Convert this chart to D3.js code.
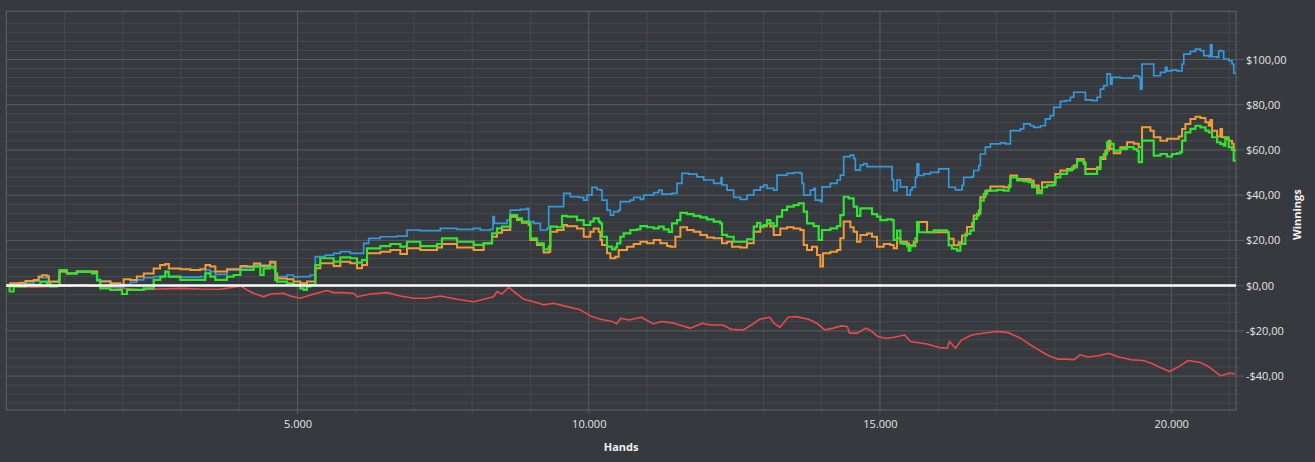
<!DOCTYPE html>
<html>
<head>
<meta charset="utf-8">
<script src="https://cdn.jsdelivr.net/npm/d3@7"></script>
<style>
  html, body { margin: 0; padding: 0; background: #36393d; }
  svg { display: block; }
</style>
</head>
<body>
<div id="chart"></div>
<script>
// [hands, winnings $]
const blueSeries = [[0,0],[240,1.0],[470,2.0],[555,3.5],[730,1.5],[900,2.0],[916,6.2],[1040,5.4],[1210,6.2],[1390,6.0],[1560,2.0],[1790,-0.5],[1960,-0.8],[2015,0.5],[2130,1.5],[2240,2.5],[2360,3.5],[2530,4.0],[2730,6.2],[2790,4.0],[3000,3.8],[3330,4.0],[3420,6.9],[3500,6.2],[3590,5.0],[3790,6.9],[4020,8.0],[4250,9.1],[4530,9.8],[4600,9.8],[4620,4.0],[4820,4.7],[4930,3.9],[5050,4.0],[5220,4.7],[5306,12.8],[5391,12.8],[5477,13.5],[5620,14.3],[5735,15.0],[5906,14.3],[6078,14.3],[6135,18.7],[6221,20.9],[6422,21.6],[6708,21.9],[6879,24.6],[7108,24.3],[7451,25.3],[7738,24.9],[8024,25.3],[8138,24.6],[8310,24.9],[8356,30.5],[8379,27.5],[8596,29.0],[8653,33.4],[8825,33.7],[8940,34.2],[8968,28.3],[9054,27.5],[9169,24.6],[9283,25.3],[9312,34.9],[9455,34.9],[9569,40.8],[9684,39.3],[9827,39.0],[9913,37.8],[9970,40.0],[10056,43.4],[10141,42.5],[10199,42.2],[10228,37.8],[10313,33.4],[10371,31.2],[10428,32.7],[10514,33.4],[10542,37.1],[10714,37.8],[10771,39.0],[10886,38.1],[10943,40.0],[11115,41.1],[11201,42.2],[11258,40.5],[11429,40.8],[11515,45.2],[11601,49.6],[11715,49.3],[11858,48.1],[11973,46.7],[12145,45.2],[12259,45.2],[12271,47.8],[12288,44.5],[12374,42.2],[12488,39.0],[12603,38.1],[12717,40.0],[12832,42.2],[12946,43.7],[13003,44.5],[13060,43.0],[13175,42.2],[13232,48.9],[13404,49.6],[13518,50.0],[13633,49.6],[13661,45.2],[13690,40.0],[13804,42.2],[13862,43.0],[13890,37.8],[13976,37.1],[14005,43.7],[14148,45.2],[14262,46.7],[14319,48.9],[14377,57.0],[14491,57.7],[14548,56.2],[14577,51.1],[14663,53.3],[14720,54.0],[14777,52.6],[15178,52.6],[15207,46.7],[15235,42.0],[15292,46.7],[15350,43.7],[15464,40.0],[15521,42.2],[15550,43.5],[15608,47.9],[15636,53.8],[15665,48.7],[15751,49.4],[15865,50.1],[16008,51.6],[16151,51.6],[16180,43.5],[16294,42.3],[16409,44.3],[16437,47.9],[16580,48.2],[16609,50.9],[16695,53.1],[16723,58.2],[16809,61.2],[16895,62.7],[17067,63.1],[17153,62.7],[17239,68.5],[17410,69.3],[17468,71.5],[17582,70.7],[17639,70.0],[17754,70.7],[17840,73.7],[17925,75.2],[17983,78.8],[18097,81.5],[18183,81.8],[18269,83.3],[18326,85.5],[18498,85.5],[18526,82.1],[18641,81.8],[18727,83.3],[18784,86.9],[18841,88.4],[18898,93.6],[18955,89.1],[18984,92.1],[19127,91.8],[19356,92.8],[19442,92.1],[19471,86.9],[19499,98.0],[19642,98.0],[19700,92.8],[19814,94.3],[19900,96.5],[19928,95.0],[20014,95.3],[20100,95.0],[20186,98.0],[20215,102.4],[20329,103.6],[20415,104.6],[20501,103.9],[20558,101.7],[20644,101.2],[20672,106.5],[20701,101.2],[20787,100.9],[20815,103.9],[20873,103.6],[20901,100.2],[20987,99.5],[21044,98.0],[21073,93.9],[21102,93.6]];

const orangeSeries = [[0,0],[70,1.0],[240,1.3],[330,2.0],[470,2.5],[555,4.0],[615,4.6],[700,4.3],[730,1.8],[900,2.5],[910,6.2],[1040,5.4],[1210,6.2],[1390,6.2],[1560,2.5],[1610,1.8],[1790,1.0],[1960,0.3],[2015,2.8],[2130,2.5],[2240,4.0],[2360,5.4],[2530,7.6],[2640,9.1],[2730,9.6],[2790,7.6],[2990,7.2],[3160,6.9],[3330,7.2],[3420,9.1],[3500,8.4],[3590,6.2],[3790,7.2],[3900,7.2],[4020,8.7],[4130,8.4],[4250,9.8],[4360,8.7],[4530,10.6],[4600,10.6],[4620,5.4],[4650,3.2],[4820,2.8],[4930,1.8],[5048,1.0],[5162,1.8],[5306,7.7],[5391,9.9],[5620,8.7],[5735,10.6],[5906,9.9],[6021,7.7],[6107,9.1],[6193,14.3],[6422,15.0],[6593,15.7],[6765,14.0],[6879,16.5],[7108,15.7],[7394,16.9],[7480,18.4],[7738,16.9],[8024,15.7],[8196,18.7],[8310,19.0],[8339,21.6],[8425,23.4],[8510,24.6],[8653,30.5],[8768,29.0],[8854,27.8],[8968,26.8],[8997,20.2],[9111,18.0],[9226,14.6],[9312,15.0],[9340,23.8],[9455,24.6],[9569,26.8],[9627,26.3],[9798,25.3],[9913,21.6],[10027,23.8],[10084,25.3],[10170,23.8],[10199,20.2],[10228,18.0],[10313,14.3],[10371,12.1],[10457,12.8],[10514,15.7],[10657,17.2],[10771,18.4],[10886,19.4],[11000,18.7],[11115,20.2],[11229,18.7],[11344,17.5],[11401,17.2],[11487,21.6],[11573,25.8],[11687,24.6],[11801,23.8],[11916,22.4],[12030,21.3],[12145,20.9],[12259,20.9],[12288,18.7],[12374,19.4],[12460,17.2],[12603,16.9],[12717,18.7],[12832,23.8],[12946,26.3],[13060,27.5],[13118,26.1],[13175,22.4],[13289,25.3],[13404,25.8],[13518,25.3],[13633,24.6],[13690,18.0],[13747,15.7],[13833,17.2],[13919,13.5],[13976,8.4],[14022,14.3],[14148,15.0],[14262,15.7],[14319,20.9],[14377,28.3],[14434,28.3],[14491,25.8],[14548,23.8],[14606,19.4],[14663,22.4],[14777,23.1],[14863,21.6],[14949,17.2],[15064,18.4],[15178,18.0],[15235,16.5],[15292,20.9],[15350,19.4],[15464,18.7],[15493,17.8],[15579,19.4],[15636,28.1],[15808,23.6],[16151,23.6],[16180,20.7],[16266,17.8],[16352,19.2],[16409,22.2],[16495,25.9],[16580,27.6],[16609,31.0],[16695,33.2],[16723,39.1],[16809,42.0],[16895,43.8],[17124,43.5],[17210,44.3],[17239,48.7],[17353,47.2],[17468,47.2],[17582,46.5],[17639,44.3],[17725,42.0],[17782,45.7],[17983,45.7],[18011,49.4],[18097,50.9],[18212,51.6],[18326,53.1],[18383,56.0],[18498,54.6],[18526,51.6],[18727,52.3],[18784,56.0],[18870,59.7],[18927,64.1],[18955,60.4],[19013,58.5],[19127,61.2],[19242,63.4],[19356,62.7],[19442,61.2],[19499,70.0],[19614,70.0],[19642,68.5],[19700,65.6],[19814,64.1],[19928,64.9],[20129,65.9],[20186,69.3],[20243,71.5],[20329,73.7],[20415,74.7],[20501,74.1],[20587,72.2],[20644,70.7],[20672,73.2],[20701,68.5],[20787,65.9],[20844,69.3],[20873,65.6],[20930,64.9],[20987,64.1],[21044,62.7],[21073,59.7],[21102,59.5]];

const greenSeries = [[0,0],[40,0.3],[57,-2.6],[126,-0.4],[326,0.3],[469,0.3],[584,1.8],[698,1.0],[755,-0.4],[870,-0.1],[916,6.9],[1042,5.4],[1213,6.2],[1385,6.2],[1471,5.4],[1557,2.5],[1614,-1.2],[1786,-1.9],[1900,-1.9],[1986,-3.7],[2072,-1.9],[2243,-1.9],[2358,-1.2],[2530,2.5],[2644,4.0],[2730,6.2],[2787,4.0],[2988,2.5],[3331,2.5],[3417,5.4],[3503,4.0],[3588,2.5],[3789,4.0],[3903,4.7],[4018,6.9],[4132,6.9],[4246,8.4],[4361,4.7],[4418,7.6],[4533,8.4],[4590,7.6],[4618,2.5],[4647,1.8],[4819,1.0],[4933,0.3],[5048,-1.2],[5105,-1.9],[5162,-0.4],[5220,0.3],[5306,9.1],[5391,12.1],[5563,12.1],[5620,10.6],[5735,12.5],[5906,12.1],[6021,10.2],[6107,11.3],[6193,16.5],[6422,17.5],[6593,18.4],[6765,17.2],[6879,19.4],[7108,17.5],[7394,18.4],[7480,20.9],[7738,19.4],[8024,18.0],[8196,18.7],[8281,18.7],[8339,23.1],[8425,25.3],[8510,26.1],[8653,31.2],[8768,29.7],[8854,28.3],[8968,27.5],[8997,20.9],[9111,18.7],[9226,16.0],[9312,17.2],[9340,26.1],[9455,25.8],[9541,30.8],[9627,30.5],[9798,29.0],[9913,26.8],[10027,28.3],[10084,29.7],[10170,28.3],[10199,27.5],[10228,21.6],[10313,17.2],[10399,16.0],[10457,16.9],[10485,18.7],[10542,21.6],[10600,23.1],[10714,24.6],[10829,24.9],[10886,26.3],[11000,25.8],[11115,25.3],[11201,26.1],[11286,24.9],[11372,23.8],[11429,27.5],[11515,29.0],[11573,32.2],[11687,31.6],[11801,30.8],[11916,30.2],[12030,29.3],[12145,28.3],[12259,27.5],[12288,22.4],[12374,21.6],[12488,19.4],[12603,19.4],[12717,20.5],[12832,26.1],[12889,27.8],[12946,25.8],[13003,26.8],[13060,29.0],[13118,27.5],[13175,26.3],[13232,30.5],[13318,33.4],[13404,34.9],[13518,35.6],[13604,36.4],[13690,32.7],[13747,27.5],[13862,26.3],[13947,20.2],[14005,24.6],[14148,25.3],[14262,26.3],[14319,31.2],[14377,39.3],[14462,38.6],[14548,34.9],[14606,30.8],[14663,34.2],[14777,34.2],[14863,31.6],[14949,30.5],[15006,29.0],[15121,29.3],[15207,29.0],[15235,20.2],[15292,24.3],[15350,18.7],[15407,18.5],[15464,17.5],[15493,15.5],[15521,17.5],[15607,20.9],[15636,28.1],[15665,23.6],[15922,24.4],[16151,23.6],[16180,17.8],[16237,16.3],[16323,15.5],[16380,18.5],[16466,22.9],[16552,24.4],[16609,29.5],[16666,31.7],[16723,37.6],[16781,40.6],[16838,42.0],[17010,42.3],[17124,42.0],[17210,43.5],[17239,47.9],[17353,46.5],[17468,46.2],[17553,45.7],[17611,43.5],[17697,40.9],[17782,43.5],[17868,44.3],[17983,44.7],[18011,47.9],[18097,49.4],[18212,50.9],[18297,52.3],[18383,55.3],[18498,53.8],[18526,49.4],[18727,51.6],[18784,56.8],[18841,58.2],[18898,63.4],[18955,62.7],[19013,59.7],[19127,60.4],[19242,61.2],[19356,60.4],[19413,59.7],[19442,54.6],[19499,64.1],[19614,64.1],[19700,57.5],[19814,58.2],[19928,57.1],[20014,58.2],[20100,58.5],[20157,59.0],[20186,64.1],[20243,67.8],[20329,69.3],[20415,70.7],[20501,70.0],[20587,68.5],[20644,67.8],[20701,65.6],[20787,63.4],[20844,62.7],[20901,61.9],[20930,65.6],[20987,61.2],[21044,60.0],[21073,55.3],[21102,55.0]];

const redSeries = [[0,0],[69,-0.4],[469,-0.7],[1042,-0.1],[1270,0.3],[1614,-0.4],[2015,-1.2],[2300,-1.9],[2530,-1.6],[2988,-1.2],[3331,-1.5],[3674,-1.6],[3903,-0.7],[4018,-0.1],[4132,-1.9],[4246,-3.4],[4418,-4.9],[4533,-3.7],[4761,-3.4],[4876,-4.6],[5048,-5.6],[5220,-4.1],[5334,-3.4],[5506,-2.2],[5620,-3.1],[5792,-3.1],[5964,-3.4],[6021,-4.9],[6250,-3.7],[6536,-3.1],[6765,-4.6],[6994,-5.6],[7223,-5.6],[7452,-4.6],[7738,-6.0],[8024,-7.1],[8196,-6.0],[8367,-4.9],[8425,-2.6],[8510,-3.7],[8625,-0.7],[8711,-2.6],[8883,-6.0],[9054,-7.1],[9226,-8.5],[9397,-7.8],[9626,-9.3],[9855,-10.7],[10027,-13.4],[10199,-14.9],[10409,-15.9],[10479,-16.9],[10549,-14.4],[10690,-15.2],[10900,-14.0],[11110,-16.9],[11250,-15.9],[11460,-16.6],[11741,-18.8],[11951,-16.6],[12091,-17.4],[12301,-17.4],[12442,-19.3],[12652,-19.6],[12792,-17.4],[12932,-14.9],[13107,-14.0],[13177,-16.6],[13282,-18.4],[13423,-14.0],[13563,-13.7],[13773,-14.9],[13913,-16.6],[14053,-19.6],[14194,-18.8],[14334,-17.8],[14439,-18.1],[14474,-21.0],[14614,-21.0],[14754,-18.8],[14824,-19.6],[14964,-22.5],[15105,-23.3],[15245,-22.8],[15420,-21.8],[15525,-24.7],[15805,-25.8],[16016,-27.4],[16156,-27.7],[16191,-24.7],[16296,-27.7],[16401,-24.0],[16576,-21.8],[16716,-21.3],[16997,-20.3],[17207,-20.8],[17417,-23.3],[17557,-25.8],[17767,-29.1],[17908,-31.1],[18048,-32.5],[18188,-32.5],[18328,-32.8],[18433,-30.6],[18573,-31.6],[18749,-31.0],[18924,-29.9],[19099,-31.6],[19309,-32.8],[19519,-33.1],[19659,-34.3],[19800,-36.1],[19975,-38.0],[20150,-35.5],[20290,-33.1],[20500,-34.0],[20641,-35.8],[20851,-39.9],[20991,-38.7],[21096,-39.0]];

const xMajorTicks = [5000, 10000, 15000, 20000];
const yMajorTicks = [-40, -20, 0, 20, 40, 60, 80, 100];
const xTitle = "Hands";
const yTitle = "Winnings";

const width = 1315, height = 462;
const plot = { left: 6.3, top: 11.3, right: 1236, bottom: 410 };

const svg = d3.select("#chart").append("svg")
    .attr("width", width)
    .attr("height", height)
    .style("background-color", "#36393d");

const x = d3.scaleLinear().domain([0, 21112]).range([plot.left, plot.right]);
const y = d3.scaleLinear().domain([-55, 121.3]).range([plot.bottom, plot.top]);

const locale = d3.formatLocale({ decimal: ",", thousands: ".", grouping: [3], currency: ["$", ""], minus: "-" });
const fmtMoney = locale.format("$,.2f");
const fmtHands = locale.format(",");

const xMinor = d3.range(1000, 21112, 1000);
const yMinor = d3.range(-52, 120, 4);

// minor grid
svg.append("g").selectAll("line").data(xMinor.filter(d => d % 5000 !== 0)).join("line")
    .attr("x1", d => x(d)).attr("x2", d => x(d))
    .attr("y1", plot.top).attr("y2", plot.bottom + 4)
    .attr("stroke", "#46494d").attr("stroke-width", 1);

svg.append("g").selectAll("line").data(yMinor.filter(d => d % 20 !== 0)).join("line")
    .attr("x1", plot.left).attr("x2", plot.right + 4)
    .attr("y1", d => y(d)).attr("y2", d => y(d))
    .attr("stroke", "#46494d").attr("stroke-width", 1);

// major grid
svg.append("g").selectAll("line").data(xMajorTicks).join("line")
    .attr("x1", d => x(d)).attr("x2", d => x(d))
    .attr("y1", plot.top).attr("y2", plot.bottom + 4)
    .attr("stroke", "#5a5e62").attr("stroke-width", 1);

svg.append("g").selectAll("line").data(yMajorTicks).join("line")
    .attr("x1", plot.left).attr("x2", plot.right + 8)
    .attr("y1", d => y(d)).attr("y2", d => y(d))
    .attr("stroke", "#5a5e62").attr("stroke-width", 1);

// plot border
svg.append("rect")
    .attr("x", plot.left).attr("y", plot.top)
    .attr("width", plot.right - plot.left).attr("height", plot.bottom - plot.top)
    .attr("fill", "none").attr("stroke", "#5a5e62").attr("stroke-width", 1.2);

// axes labels
const xAxis = d3.axisBottom(x).tickValues(xMajorTicks).tickFormat(fmtHands).tickSize(0).tickPadding(10);
svg.append("g").attr("transform", `translate(0,${plot.bottom})`).call(xAxis)
    .call(g => g.select(".domain").remove())
    .selectAll("text")
    .attr("fill", "#e4e4e4").style("font-family", "'Open Sans', 'Noto Sans', sans-serif").style("font-size", "11px");

const yAxis = d3.axisRight(y).tickValues(yMajorTicks).tickFormat(fmtMoney).tickSize(0).tickPadding(10);
svg.append("g").attr("transform", `translate(${plot.right},0)`).call(yAxis)
    .call(g => g.select(".domain").remove())
    .selectAll("text")
    .attr("fill", "#e4e4e4").style("font-family", "'Open Sans', 'Noto Sans', sans-serif").style("font-size", "11px");

svg.append("text")
    .attr("x", (plot.left + plot.right) / 2).attr("y", 451)
    .attr("text-anchor", "middle")
    .attr("fill", "#f0f0f0")
    .style("font-family", "'Open Sans', 'Noto Sans', sans-serif").style("font-size", "11px").style("font-weight", "bold")
    .text(xTitle);

svg.append("text")
    .attr("transform", `translate(1301,${(plot.top + plot.bottom) / 2 + 4}) rotate(-90)`)
    .attr("text-anchor", "middle")
    .attr("fill", "#f0f0f0")
    .style("font-family", "'Open Sans', 'Noto Sans', sans-serif").style("font-size", "11px").style("font-weight", "bold")
    .text(yTitle);

// series
const clip = svg.append("clipPath").attr("id", "plotclip").append("rect")
    .attr("x", plot.left).attr("y", plot.top)
    .attr("width", plot.right - plot.left).attr("height", plot.bottom - plot.top);

const stepLine = d3.line().x(d => x(d[0])).y(d => y(d[1])).curve(d3.curveStepAfter);
const plainLine = d3.line().x(d => x(d[0])).y(d => y(d[1]));

const lines = svg.append("g").attr("clip-path", "url(#plotclip)");

lines.append("path").datum(redSeries)
    .attr("d", plainLine).attr("fill", "none")
    .attr("stroke", "#e84a4a").attr("stroke-width", 1.6).attr("stroke-linejoin", "round");

lines.append("path").datum(blueSeries)
    .attr("d", stepLine).attr("fill", "none")
    .attr("stroke", "#3498db").attr("stroke-width", 1.7);

lines.append("path").datum(orangeSeries)
    .attr("d", stepLine).attr("fill", "none")
    .attr("stroke", "#f39a36").attr("stroke-width", 2);

lines.append("path").datum(greenSeries)
    .attr("d", stepLine).attr("fill", "none")
    .attr("stroke", "#2fe52f").attr("stroke-width", 2.2);

// zero line
svg.append("line")
    .attr("x1", plot.left).attr("x2", plot.right)
    .attr("y1", y(0)).attr("y2", y(0))
    .attr("stroke", "#ffffff").attr("stroke-width", 2.5);
</script>
</body>
</html>
